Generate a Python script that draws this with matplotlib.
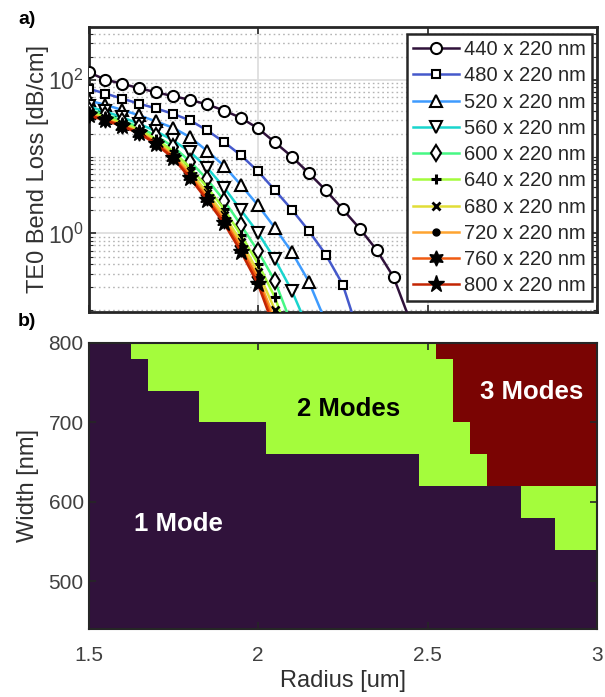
import numpy as np
import matplotlib
matplotlib.use("Agg")
import matplotlib.pyplot as plt
from matplotlib.ticker import FixedLocator, NullFormatter, FixedFormatter

plt.rcParams['font.family'] = ['Liberation Sans', 'DejaVu Sans']
plt.rcParams['mathtext.fontset'] = 'custom'
plt.rcParams['mathtext.rm'] = 'Liberation Sans'
plt.rcParams['mathtext.it'] = 'Liberation Sans:italic'
plt.rcParams['mathtext.bf'] = 'Liberation Sans:bold'

# ---------------- data ----------------
radii = [1.5, 1.55, 1.6, 1.65, 1.7, 1.75, 1.8, 1.85, 1.9, 1.95, 2.0, 2.05,
         2.1, 2.15, 2.2, 2.25, 2.3, 2.35, 2.4, 2.45, 2.5, 2.55, 2.6, 2.65,
         2.7, 2.75, 2.8, 2.85, 2.9, 2.95, 3.0]
widths = [440, 480, 520, 560, 600, 640, 680, 720, 760, 800]
legend_labels = ["440 x 220 nm", "480 x 220 nm", "520 x 220 nm", "560 x 220 nm",
                 "600 x 220 nm", "640 x 220 nm", "680 x 220 nm", "720 x 220 nm",
                 "760 x 220 nm", "800 x 220 nm"]

loss_440 = [126, 101, 89, 78, 69, 61.5, 55, 48, 40, 32, 23.4, 15.4, 10.0, 6.1,
            3.66, 2.07, 1.16, 0.61, 0.27, 0.07]
loss_480 = [76.9, 66.5, 57, 49, 42.5, 36.1, 29.7, 22, 15.5, 10.4, 6.46, 3.66,
            2.04, 1.08, 0.53, 0.216, 0.045]
loss_520 = [54.1, 47.3, 40.7, 34.5, 28.8, 23.8, 17.9, 11.9, 7.62, 4.25, 2.33,
            1.18, 0.571, 0.236, 0.07]
loss_560 = [45.2, 38.9, 32.5, 26.8, 21.4, 16.3, 11.5, 7.21, 3.96, 2.01, 1.02,
            0.459, 0.179, 0.055]
loss_600 = [41.1, 35.4, 29.6, 24.2, 18.6, 13.5, 8.66, 5.07, 2.69, 1.28, 0.589,
            0.240, 0.064]
loss_640 = [38.5, 33.1, 27.7, 22.6, 16.9, 11.8, 7.17, 4.01, 2.08, 0.95, 0.406,
            0.147, 0.035]
loss_680 = [36.9, 31.8, 26.5, 21.6, 15.9, 10.8, 6.32, 3.42, 1.75, 0.778, 0.318,
            0.101, 0.022]
loss_720 = [35.9, 30.9, 25.8, 20.9, 15.3, 10.3, 5.85, 3.11, 1.57, 0.686, 0.272,
            0.075]
loss_760 = [35.2, 30.3, 25.3, 20.6, 14.9, 9.91, 5.53, 2.90, 1.45, 0.634, 0.248,
            0.062]
loss_800 = [34.5, 29.7, 24.9, 20.1, 14.5, 9.53, 5.24, 2.71, 1.35, 0.576, 0.219,
            0.055]
losses = [loss_440, loss_480, loss_520, loss_560, loss_600, loss_640,
          loss_680, loss_720, loss_760, loss_800]

# number of guided modes, one string per width (top row = 800 nm), one digit per radius
mode_rows_top_down = [
    "111" "222222222" "222222222" "33333" "33333",      # 800
    "1111" "222222222" "222222222" "333333333",         # 760
    "1111111" "222222222222222" "333333333",            # 720
    "11111111111" "222222222222" "33333333",            # 680
    "11111111111111111111" "2222" "3333333",            # 640
    "11111111111111111111111111" "22222",               # 600
    "1111111111111111111111111111" "222",               # 560
    "1111111111111111111111111111111",                  # 520
    "1111111111111111111111111111111",                  # 480
    "1111111111111111111111111111111",                  # 440
]
modes = np.array([[int(c) for c in row] for row in mode_rows_top_down[::-1]])

region_labels = ["1 Mode", "2 Modes", "3 Modes"]
region_label_pos = [(1.764, 572), (2.266, 717), (2.807, 738)]
region_label_colors = ["white", "black", "white"]

# ---------------- style ----------------
line_colors = plt.cm.turbo(np.linspace(0, 0.9, 10))
marker_styles = ['o', 's', '^', 'v', 'd', '+', 'x', 'o', (6, 1, 0), '*']
marker_sizes = [8, 6, 9, 9, 8.5, 7, 5.5, 5, 11, 12.5]
marker_faces = ['white', 'white', 'white', 'white', 'white', 'k', 'k', 'k', 'k', 'k']
marker_ew = [1.5, 1.5, 1.5, 1.5, 1.5, 2.2, 2.0, 1.0, 1.0, 1.0]

dark = '#262626'

fig = plt.figure(figsize=(6.05, 6.97), dpi=100)
ax1 = fig.add_axes([0.1463, 0.5524, 0.8405, 0.4089])
ax2 = fig.add_axes([0.1463, 0.0976, 0.8405, 0.4103])

# ---------------- panel a ----------------
for i, vals in enumerate(losses):
    ax1.plot(radii[:len(vals)], vals, color=line_colors[i], lw=1.8,
             marker=marker_styles[i], ms=marker_sizes[i], mfc=marker_faces[i],
             mec='k', mew=marker_ew[i], label=legend_labels[i], zorder=3 + i)

ax1.set_yscale('log')
ax1.set_xlim(1.5, 3.0)
ax1.set_ylim(0.095, 490)
ax1.yaxis.set_major_locator(FixedLocator([1, 100]))
ax1.yaxis.set_major_formatter(FixedFormatter([r'$\mathregular{10^{0}}$', r'$\mathregular{10^{2}}$']))
minor = []
for dec in [0.01, 0.1, 1, 10, 100]:
    for m in range(2, 10):
        minor.append(m * dec)
minor += [0.1, 10, 1000]
ax1.yaxis.set_minor_locator(FixedLocator(minor))
ax1.yaxis.set_minor_formatter(NullFormatter())
ax1.set_xticks([1.5, 2.0, 2.5, 3.0])
ax1.xaxis.set_minor_locator(FixedLocator([]))
ax1.tick_params(axis='x', labelbottom=False)
ax1.grid(True, which='major', axis='both', color='#dcdcdc', lw=1.2, ls='-', zorder=0)
ax1.grid(True, which='minor', axis='y', color='#b4b4b4', lw=1.0, ls=(0, (1.2, 2.2)), zorder=0)
ax1.set_axisbelow(True)
ax1.tick_params(which='both', direction='in', top=True, right=True, colors=dark,
                labelsize=16.5)
ax1.tick_params(axis='y', labelcolor='#404040')
ax1.tick_params(which='major', length=5, width=1.2)
ax1.tick_params(which='minor', length=3, width=0.8)
for s in ax1.spines.values():
    s.set_linewidth(2.0)
    s.set_color(dark)
ax1.set_ylabel('TE0 Bend Loss [dB/cm]', fontsize=17, color='#303030', labelpad=-1)

leg = ax1.legend(loc='upper right', bbox_to_anchor=(0.99, 0.975), fontsize=14.5,
                 frameon=True, fancybox=False, framealpha=1, edgecolor=dark,
                 borderpad=0.3, labelspacing=0.36, handlelength=2.3,
                 handletextpad=0.25, borderaxespad=0)
leg.get_frame().set_linewidth(1.8)
for t in leg.get_texts():
    t.set_color(dark)

# ---------------- panel b ----------------
ax2.pcolormesh(radii, widths, modes, shading='nearest', cmap='turbo',
               vmin=1, vmax=3)
ax2.set_xlim(1.5, 3.0)
ax2.set_ylim(440, 800)
ax2.set_xticks([1.5, 2.0, 2.5, 3.0])
ax2.set_xticklabels(['1.5', '2', '2.5', '3'])
ax2.set_yticks([500, 600, 700, 800])
ax2.tick_params(which='both', direction='in', top=True, right=True, colors=dark,
                labelsize=15, length=5, width=1.2, labelcolor='#404040')
ax2.tick_params(axis='x', pad=12)
for s in ax2.spines.values():
    s.set_linewidth(1.5)
    s.set_color(dark)
ax2.set_xlabel('Radius [um]', fontsize=17, color='#303030', labelpad=4)
ax2.set_ylabel('Width [nm]', fontsize=17, color='#303030', labelpad=7)

for txt, (x, y), c in zip(region_labels, region_label_pos, region_label_colors):
    ax2.text(x, y, txt, color=c, fontsize=18.5, fontweight='bold',
             ha='center', va='center')

fig.text(18 / 605, 1 - 19 / 697, 'a)', fontsize=14, fontweight='bold',
         ha='left', va='center', color='black')
fig.text(18 / 605, 1 - 322 / 697, 'b)', fontsize=14, fontweight='bold',
         ha='left', va='center', color='black')

fig.savefig('out.png', dpi=100)
